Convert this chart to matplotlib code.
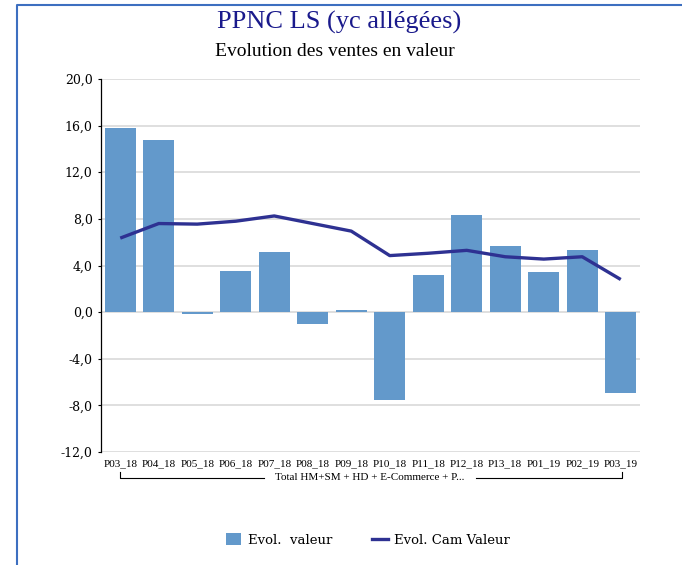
import matplotlib
matplotlib.use('Agg')
import matplotlib.pyplot as plt
from matplotlib.lines import Line2D
from matplotlib.patches import Patch
import numpy as np

periods = ['P03_18', 'P04_18', 'P05_18', 'P06_18', 'P07_18', 'P08_18', 'P09_18',
           'P10_18', 'P11_18', 'P12_18', 'P13_18', 'P01_19', 'P02_19', 'P03_19']
evol_valeur = [15.8, 14.75, -0.2, 3.5, 5.15, -1.0, 0.15,
               -7.55, 3.2, 8.3, 5.65, 3.4, 5.3, -6.9]
evol_cam = [6.35, 7.6, 7.55, 7.8, 8.25, 7.6, 6.95,
            4.85, 5.05, 5.3, 4.75, 4.55, 4.75, 2.8]
yticks = [20, 16, 12, 8, 4, 0, -4, -8, -12]
group_label = 'Total HM+SM + HD + E-Commerce + P...'

bar_color = '#6399cb'
line_color = '#2e3192'

fig = plt.figure(figsize=(6.82, 5.65), dpi=100)
ax = fig.add_axes([101/682, 1 - 452/565, 539/682, 373/565])

x = np.arange(len(periods))
ax.bar(x, evol_valeur, width=0.8, color=bar_color, zorder=2)
ax.plot(x, evol_cam, color=line_color, linewidth=2.4, zorder=3, solid_capstyle='butt')

ax.set_xlim(-0.5, len(periods) - 0.5)
ax.set_ylim(-12, 20)
ax.set_yticks(yticks)
ax.set_yticklabels([f'{v:.1f}'.replace('.', ',') for v in yticks],
                   family='DejaVu Serif', fontsize=9)
ax.set_xticks(x)
ax.set_xticklabels(periods, family='Liberation Serif', fontsize=8)
ax.tick_params(axis='x', length=0, pad=5)
ax.tick_params(axis='y', length=2, width=0.8, pad=4)
ax.grid(axis='y', color='#d9d9d9', linewidth=1.2, zorder=0)
for s in ['top', 'right', 'bottom']:
    ax.spines[s].set_visible(False)
ax.spines['left'].set_color('black')
ax.spines['left'].set_linewidth(0.9)

# group bracket under the category labels
fig.add_artist(Line2D([120/682, 120/682, 264/682], [1 - 472/565, 1 - 478/565, 1 - 478/565],
                      color='black', linewidth=0.8))
fig.add_artist(Line2D([476/682, 622/682, 622/682], [1 - 478/565, 1 - 478/565, 1 - 472/565],
                      color='black', linewidth=0.8))
fig.text(370/682, 1 - 478/565, group_label, ha='center', va='center',
         family='Liberation Serif', fontsize=8)

# titles
fig.text(339/682, 1 - 22/565, 'PPNC LS (yc allégées)', ha='center', va='center',
         family='Liberation Serif', fontsize=19, color='#1a1a8c')
fig.text(335/682, 1 - 52/565, 'Evolution des ventes en valeur', ha='center', va='center',
         family='Liberation Serif', fontsize=14, color='black')

# legend
handles = [Patch(facecolor=bar_color, edgecolor='none'),
           Line2D([0], [0], color=line_color, linewidth=2.4)]
fig.legend(handles, ['Evol.  valeur', 'Evol. Cam Valeur'], loc='center',
           bbox_to_anchor=(368/682, 1 - 540/565), ncol=2, frameon=False,
           prop={'family': 'DejaVu Serif', 'size': 9.5}, handlelength=1.2,
           handleheight=1.0, columnspacing=3.0, handletextpad=0.5)

# frame border
fig.add_artist(Line2D([17/682, 17/682, 1.0], [0.0, 1 - 5/565, 1 - 5/565],
                      color='#3d6fc0', linewidth=1.5))

fig.savefig('out.png', dpi=100)
